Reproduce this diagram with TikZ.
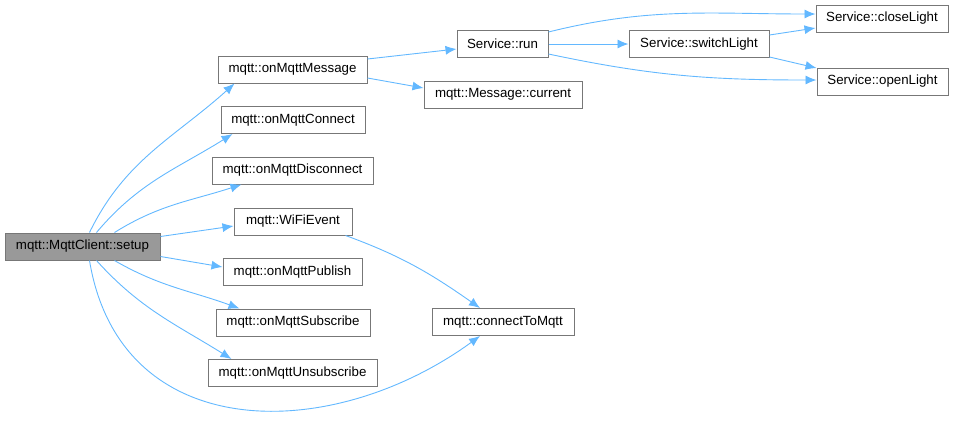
\documentclass[tikz,border=0pt]{standalone}
\usepackage{fontspec}
\setmainfont{Liberation Sans}
\definecolor{edgeblue}{HTML}{63B8FF}
\definecolor{boxgray}{HTML}{777777}
\definecolor{rootgray}{HTML}{999999}
\usetikzlibrary{arrows.meta, positioning, calc}
\tikzset{
	fn/.style={rectangle, draw=boxgray, fill=white, line width=1pt, align=center, minimum height=27pt, inner xsep=0pt, font=\fontsize{13.3}{16}\selectfont},
	rootfn/.style={fn, fill=rootgray},
	call/.style={-{Latex[length=11pt, width=9pt]}, draw=edgeblue, line width=0.9pt},
}

\begin{document}
\begin{tikzpicture}[x=1pt, y=1pt]
		\useasboundingbox (0,0) rectangle (954,-424);
		\node[rootfn, minimum width=155pt] (setup) at (82.5,-246.5) {mqtt::MqttClient::setup};
		\node[fn, minimum width=149pt] (msg) at (292.5,-69.5) {mqtt::onMqttMessage};
		\node[fn, minimum width=144pt] (conn) at (293,-120) {mqtt::onMqttConnect};
		\node[fn, minimum width=161pt] (disc) at (292.5,-170.5) {mqtt::onMqttDisconnect};
		\node[fn, minimum width=118pt] (wifi) at (293,-221.5) {mqtt::WiFiEvent};
		\node[fn, minimum width=139pt] (pub) at (292.5,-272) {mqtt::onMqttPublish};
		\node[fn, minimum width=154pt] (sub) at (293,-322.5) {mqtt::onMqttSubscribe};
		\node[fn, minimum width=169pt] (unsub) at (292.5,-373) {mqtt::onMqttUnsubscribe};
		\node[fn, minimum width=91pt] (run) at (502.5,-44) {Service::run};
		\node[fn, minimum width=158pt] (current) at (503,-94.5) {mqtt::Message::current};
		\node[fn, minimum width=142pt] (tomqtt) at (503,-322) {mqtt::connectToMqtt};
		\node[fn, minimum width=140pt] (switch) at (699,-44) {Service::switchLight};
		\node[fn, minimum width=132pt] (close) at (882,-18.5) {Service::closeLight};
		\node[fn, minimum width=131pt] (open) at (882.5,-81.5) {Service::openLight};
		% calls from setup
		\draw[call] ([xshift=85pt]setup.north west) to[out=64, in=222] ([xshift=17pt]msg.south west);
		\draw[call] ([xshift=92pt]setup.north west) to[out=50, in=212] ([xshift=12pt]conn.south west);
		\draw[call] ([xshift=110pt]setup.north west) to[out=32, in=198] ([xshift=30pt]disc.south west);
		\draw[call] ([yshift=-4pt]setup.north east) -- ([yshift=-4.5pt]wifi.west);
		\draw[call] ([yshift=4pt]setup.south east) -- ([yshift=5pt]pub.west);
		\draw[call] ([xshift=110pt]setup.south west) to[out=-30, in=160] ([xshift=24pt]sub.north west);
		\draw[call] ([xshift=92pt]setup.south west) to[out=-48, in=148] ([xshift=24pt]unsub.north west);
		\draw[call] ([xshift=85pt]setup.south west) .. controls (120,-445) and (330,-445) .. ([xshift=-23pt]tomqtt.south);
		\draw[call] ([xshift=-7pt]wifi.south east) to[out=-20, in=145] ([xshift=-23pt]tomqtt.north);
		% message handling
		\draw[call] ([yshift=10.5pt]msg.east) -- ([yshift=-5pt]run.west);
		\draw[call] ([yshift=-8.5pt]msg.east) -- ([yshift=6.5pt]current.west);
		\draw[call] ([yshift=12pt]run.east) to[out=14, in=180] ([yshift=4.5pt]close.west);
		\draw[call] (run.east) -- (switch.west);
		\draw[call] ([yshift=-10pt]run.east) to[out=-12, in=180] ([yshift=1.5pt]open.west);
		\draw[call] ([yshift=9pt]switch.east) -- ([yshift=-9.5pt]close.west);
		\draw[call] ([yshift=-13pt]switch.east) -- ([yshift=13.5pt]open.west);
	\end{tikzpicture}
\end{document}
